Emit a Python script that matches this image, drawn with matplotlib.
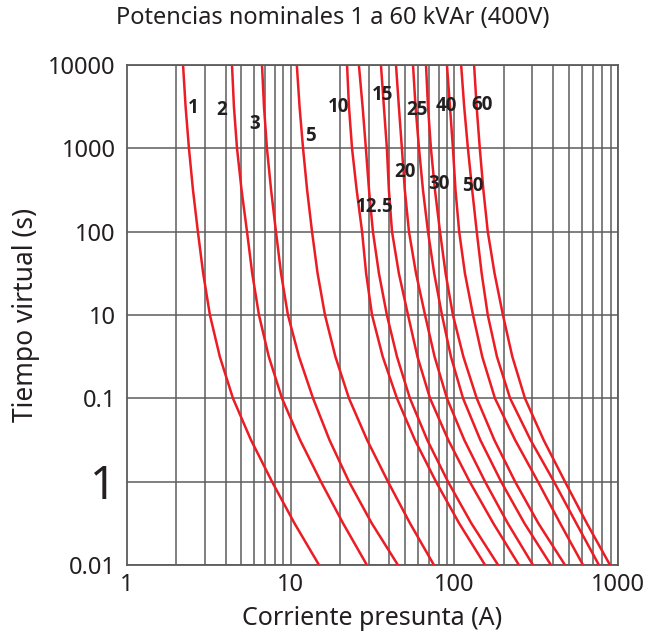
import matplotlib
matplotlib.use("Agg")
import matplotlib.pyplot as plt
import numpy as np

# tiempos (s) a los que se leyeron las corrientes de cada curva (cada media decada)
tiempos = [10000, 3162, 1000, 316.2, 100, 31.62, 10, 3.162, 1, 0.3162, 0.1, 0.03162, 0.01]

# corriente (A) de cada curva en esos tiempos
curvas = {
    "1":    [2.20, 2.28, 2.39, 2.53, 2.71, 2.92, 3.21, 3.69, 4.44, 5.72, 7.69, 10.55, 14.9],
    "2":    [4.38, 4.50, 4.70, 5.01, 5.41, 5.82, 6.40, 7.35, 8.85, 11.41, 15.3, 20.9, 29.2],
    "3":    [6.68, 6.87, 7.16, 7.59, 8.13, 8.73, 9.62, 11.24, 13.7, 17.26, 22.7, 31.3, 45.2],
    "5":    [10.9, 11.33, 11.9, 12.6, 13.5, 14.6, 16.2, 18.76, 22.7, 29.3, 39.3, 53.6, 75.0],
    "10":   [22.1, 22.7, 23.7, 25.3, 27.3, 28.9, 31.4, 36.5, 44.6, 57.4, 77.2, 107, 154],
    "12.5": [26.1, 27.5, 28.8, 30.1, 31.8, 34.6, 38.7, 44.6, 53.5, 68.3, 91.4, 127, 185],
    "15":   [35.6, 37.1, 38.7, 39.8, 41.6, 45.8, 52.1, 59.5, 71.0, 91.8, 124, 173, 248],
    "20":   [44.0, 45.8, 47.8, 49.8, 52.8, 58.3, 66.2, 75.7, 90.1, 115, 154, 212, 302],
    "25":   [55.9, 57.9, 60.8, 64.3, 69.0, 75.3, 84.0, 95.3, 113, 144, 193, 268, 389],
    "30":   [67.1, 69.0, 71.9, 76.1, 81.7, 88.4, 98.0, 113.5, 137, 175.5, 235, 326, 474],
    "40":   [90.1, 94.0, 98.0, 101.6, 107, 116, 130, 148, 177, 235, 324, 443, 611],
    "50":   [110, 114.8, 121, 128.5, 137, 146.8, 160, 182, 219, 292, 406, 556, 764],
    "60":   [132, 136.8, 143, 150.4, 160, 176, 198, 226, 270, 351, 474, 645, 893],
}

# posicion de cada etiqueta (A, s)
etiquetas = {
    "1": (2.53, 3050), "2": (3.80, 2880), "3": (6.05, 1960), "5": (13.3, 1405),
    "10": (19.5, 3130), "15": (36.6, 4360), "25": (59, 2880), "40": (88.9, 3210),
    "60": (147, 3310), "20": (49.9, 520), "30": (80.5, 372), "50": (130, 353),
    "12.5": (32.7, 197),
}

ytick_vals = [10000, 1000, 100, 10, 1, 0.1, 0.01]
ytick_labels = ["10000", "1000", "100", "10", "0.1", "1", "0.01"]
xtick_vals = [1, 10, 100, 1000]
xtick_labels = ["1", "10", "100", "1000"]

plt.rcParams["font.family"] = ["Noto Sans", "DejaVu Sans"]
texto = "#231f20"
rojo = "#ec1c24"
rejilla = "#5c5c5c"

fig = plt.figure(figsize=(6.66, 6.39), dpi=100)
ax = fig.add_axes([0.1907, 0.1158, 0.7373, 0.7825])
ax.set_xscale("log")
ax.set_yscale("log")
ax.set_xlim(1, 1000)
ax.set_ylim(0.01, 10000)

# rejilla: verticales en cada subdivision, horizontales en cada decada
for dec in [1, 10, 100]:
    for m in range(2, 11):
        ax.axvline(dec * m, color=rejilla, lw=1.1, zorder=1)
for v in ytick_vals:
    ax.axhline(v, color=rejilla, lw=1.1, zorder=1)

for nombre, corrientes in curvas.items():
    ax.plot(corrientes, tiempos, color=rojo, lw=1.8, zorder=3)

for nombre, (xx, yy) in etiquetas.items():
    ax.text(xx, yy, nombre, fontsize=13.5, fontweight="bold", color=texto,
            family=["Open Sans", "DejaVu Sans"],
            ha="center", va="center", zorder=4)

ax.set_xticks(xtick_vals)
ax.set_xticklabels(xtick_labels)
ax.set_yticks(ytick_vals)
ax.set_yticklabels(ytick_labels)
ax.minorticks_off()
ax.tick_params(length=0, labelsize=17, colors=texto)
ax.tick_params(axis="y", pad=8)
ax.tick_params(axis="x", pad=6)
for lab in ax.get_yticklabels():
    if lab.get_text() == "1":
        lab.set_fontsize(33)

for s in ax.spines.values():
    s.set_color(rejilla)
    s.set_linewidth(1.3)

ax.set_xlabel("Corriente presunta (A)", fontsize=18, color=texto, labelpad=6)
ax.set_ylabel("Tiempo virtual (s)", fontsize=19, color=texto, labelpad=6)
fig.text(0.5, 0.972, "Potencias nominales 1 a 60 kVAr (400V)", fontsize=17,
         color=texto, ha="center", va="center")

fig.savefig("out.png", dpi=100)
